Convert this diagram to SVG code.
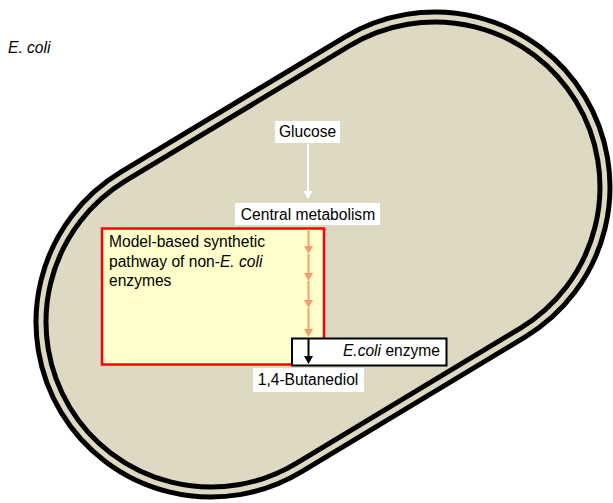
<svg xmlns="http://www.w3.org/2000/svg" width="613" height="503" viewBox="0 0 613 503">
<style>
  text { font-family: "Liberation Sans", Arial, sans-serif; font-size: 15.6px; fill: #000; }
  .it { font-style: italic; }
  .lbl { fill: #ffffff; stroke: none; }
  .memb { fill: #DDD9C3; stroke: #000; stroke-width: 5; }
  .memb2 { fill: none; stroke: #000; stroke-width: 5; }
  .wh { stroke: #ffffff; stroke-width: 2; fill: none; }
  .or { stroke: #F99B6B; stroke-width: 2; fill: none; }
  .bk { stroke: #000; stroke-width: 2; fill: none; }
</style>
<defs>
  <marker id="ahW" markerUnits="userSpaceOnUse" markerWidth="9" markerHeight="9" refX="0" refY="4.5" orient="auto">
    <path d="M0,0 L8,4.5 L0,9 z" fill="#ffffff"/>
  </marker>
  <marker id="ahO" markerUnits="userSpaceOnUse" markerWidth="9" markerHeight="9" refX="0" refY="4.5" orient="auto">
    <path d="M0,0 L8,4.5 L0,9 z" fill="#F99B6B"/>
  </marker>
  <marker id="ahB" markerUnits="userSpaceOnUse" markerWidth="9" markerHeight="9" refX="0" refY="4.5" orient="auto">
    <path d="M0,0 L8,4.5 L0,9 z" fill="#000"/>
  </marker>
</defs>
<rect x="0" y="0" width="613" height="503" fill="#ffffff"/>
<g id="cell" transform="translate(211,322) rotate(-31.08)">
  <rect class="memb" x="-175" y="-175" width="611.5" height="350" rx="175" ry="175"/>
  <rect class="memb2" x="-165" y="-165" width="591.5" height="330" rx="165" ry="165"/>
</g>
<g id="label-ecoli">
  <text class="it" x="8" y="53">E. coli</text>
</g>
<g id="node-glucose">
  <rect class="lbl" x="275" y="121" width="65" height="22"/>
  <text x="307.5" y="137" text-anchor="middle">Glucose</text>
</g>
<g id="node-central">
  <rect class="lbl" x="235" y="203" width="145" height="22"/>
  <text x="308" y="220" text-anchor="middle">Central metabolism</text>
</g>
<g id="node-pathway">
  <rect x="102" y="228.5" width="222" height="136" fill="#FFFFCC" stroke="#FF0000" stroke-width="2.5"/>
  <text x="109" y="247">Model-based synthetic</text>
  <text x="109" y="266.5">pathway of non-<tspan class="it">E. coli</tspan></text>
  <text x="109" y="286">enzymes</text>
</g>
<g id="node-enzyme">
  <rect x="292" y="338.5" width="154.5" height="27" fill="#ffffff" stroke="#000" stroke-width="2"/>
  <text x="440" y="356" text-anchor="end"><tspan class="it">E.coli</tspan> enzyme</text>
</g>
<g id="node-butanediol">
  <rect class="lbl" x="253" y="368" width="111" height="24"/>
  <text x="308" y="385" text-anchor="middle">1,4-Butanediol</text>
</g>
<g id="connectors">
  <line class="wh" x1="308" y1="144" x2="308" y2="191" marker-end="url(#ahW)"/>
  <line class="or" x1="308.5" y1="229" x2="308.5" y2="246" marker-end="url(#ahO)"/>
  <line class="or" x1="308.5" y1="254" x2="308.5" y2="273" marker-end="url(#ahO)"/>
  <line class="or" x1="308.5" y1="281" x2="308.5" y2="300" marker-end="url(#ahO)"/>
  <line class="or" x1="308.5" y1="308" x2="308.5" y2="329" marker-end="url(#ahO)"/>
  <line class="bk" x1="308.5" y1="339" x2="308.5" y2="356" marker-end="url(#ahB)"/>
</g>
</svg>
